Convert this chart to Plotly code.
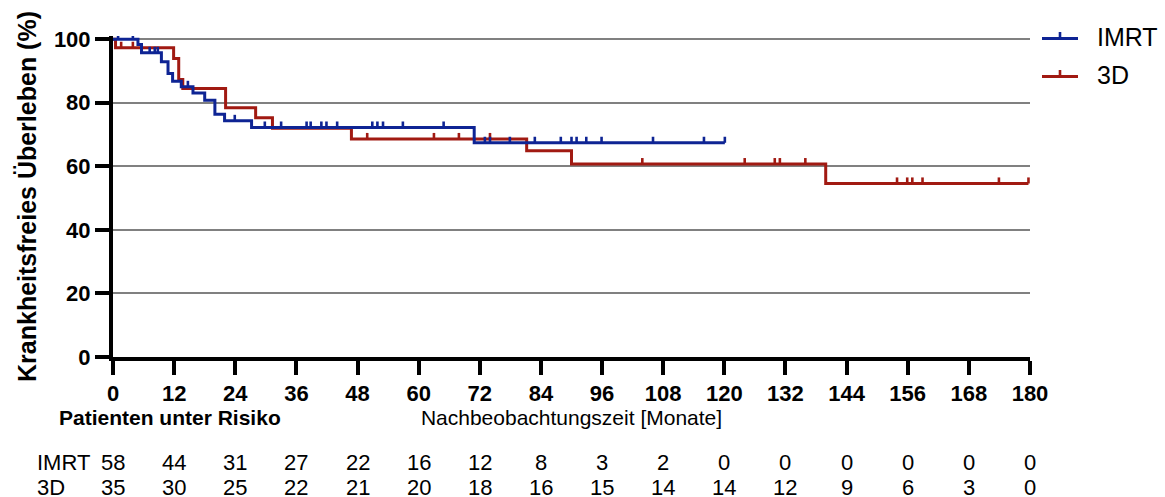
import plotly.graph_objects as go

# ---------------- data ----------------
month_ticks = list(range(0, 181, 12))
y_ticks = [0, 20, 40, 60, 80, 100]

imrt_event_times = [4.9, 5.6, 9.5, 10.8, 11.7, 13.4, 15.7, 18.0, 20.0, 21.9, 27.2, 70.9]
imrt_event_surv = [98.3, 95.7, 92.9, 89.2, 86.8, 85.0, 83.1, 80.8, 76.4, 74.3, 72.2, 67.4]
imrt_last_time = 120.1
imrt_censor = [1.0, 3.9, 7.2, 8.2, 8.8, 14.7, 23.9, 29.8, 33.0, 38.0, 38.8, 40.9, 41.9,
               44.0, 50.9, 51.9, 53.0, 56.9, 64.9, 73.0, 74.0, 77.9, 82.8, 87.9, 90.0,
               91.0, 92.9, 95.9, 106.0, 116.0, 120.1]

d3_event_times = [0.5, 11.9, 12.9, 13.7, 22.1, 28.0, 31.3, 46.8, 81.2, 90.0, 139.9]
d3_event_surv = [97.3, 93.9, 87.3, 84.5, 78.4, 75.3, 72.0, 68.6, 64.9, 60.7, 54.6]
d3_last_time = 179.7
d3_censor = [1.6, 3.9, 49.9, 63.0, 67.9, 74.0, 103.9, 124.0, 129.9, 130.9, 135.9,
             153.9, 155.9, 156.9, 158.9, 173.9, 179.7]

imrt_at_risk = [58, 44, 31, 27, 22, 16, 12, 8, 3, 2, 0, 0, 0, 0, 0, 0]
d3_at_risk = [35, 30, 25, 22, 21, 20, 18, 16, 15, 14, 14, 12, 9, 6, 3, 0]

group_names = ["IMRT", "3D"]
BLUE = "#0E2494"
RED = "#A11A12"
FONT = "Arial, Liberation Sans, Helvetica, sans-serif"

# layout geometry (pixels)
W, H = 1165, 497
ML, MR, MT, MB = 113, 135, 36, 140
PW, PH = W - ML - MR, H - MT - MB


def px_x(px):
    return (px - ML) / PW


def px_y(py):
    return (H - MB - py) / PH


def step_xy(times, surv, last_time):
    xs = [0.0] + list(times) + [last_time]
    ys = [100.0] + list(surv) + [surv[-1]]
    return xs, ys


def surv_at(t, times, surv):
    s = 100.0
    for ti, si in zip(times, surv):
        if ti <= t:
            s = si
    return s


fig = go.Figure()

groups = [
    ("3D", d3_event_times, d3_event_surv, d3_last_time, d3_censor, RED),
    ("IMRT", imrt_event_times, imrt_event_surv, imrt_last_time, imrt_censor, BLUE),
]

for name, t, s, last, cens, col in groups:
    xs, ys = step_xy(t, s, last)
    fig.add_trace(go.Scatter(x=xs, y=ys, mode="lines", name=name,
                             line=dict(color=col, width=3, shape="hv"),
                             showlegend=False, hoverinfo="skip"))
    cy = [surv_at(c, t, s) for c in cens]
    fig.add_trace(go.Scatter(
        x=cens, y=cy, mode="markers", name=name + " zensiert",
        marker=dict(size=1, color="rgba(0,0,0,0)"),
        error_y=dict(type="data", symmetric=False, array=[1.9] * len(cens),
                     arrayminus=[0] * len(cens), width=0, thickness=2.6, color=col),
        showlegend=False, hoverinfo="skip"))

ann = []
shapes = []

# legend (drawn manually so that it does not push the plot margins)
for i, (name, col) in enumerate([("IMRT", BLUE), ("3D", RED)]):
    ly = 38.5 + 38 * i
    shapes.append(dict(type="line", xref="paper", yref="paper",
                       x0=px_x(1042), x1=px_x(1078), y0=px_y(ly), y1=px_y(ly),
                       line=dict(color=col, width=3)))
    shapes.append(dict(type="line", xref="paper", yref="paper",
                       x0=px_x(1060), x1=px_x(1060), y0=px_y(ly), y1=px_y(ly - 6.5),
                       line=dict(color=col, width=2.6)))
    ann.append(dict(text=name, xref="paper", yref="paper", x=px_x(1095), y=px_y(ly - 1),
                    xanchor="left", yanchor="middle", showarrow=False,
                    font=dict(size=25, color="black", family=FONT)))

# risk table
ann.append(dict(text="<b>Patienten unter Risiko</b>", xref="paper", yref="paper",
                x=px_x(57), y=0, yshift=-60, xanchor="left", yanchor="middle",
                showarrow=False, font=dict(size=21, color="black", family=FONT)))
for row, (label, vals) in enumerate(zip(group_names, [imrt_at_risk, d3_at_risk])):
    ys = -105 - 25 * row
    ann.append(dict(text=label, xref="paper", yref="paper", x=px_x(35), y=0, yshift=ys,
                    xanchor="left", yanchor="middle", showarrow=False,
                    font=dict(size=22, color="black", family=FONT)))
    for m, v in zip(month_ticks, vals):
        ann.append(dict(text=str(v), xref="x", yref="paper", x=m, y=0, yshift=ys,
                        xanchor="center", yanchor="middle", showarrow=False,
                        font=dict(size=22, color="black", family=FONT)))

fig.update_layout(
    width=W, height=H,
    margin=dict(l=ML, r=MR, t=MT, b=MB),
    plot_bgcolor="white", paper_bgcolor="white",
    font=dict(family=FONT, color="black"),
    showlegend=False,
    annotations=ann,
    shapes=shapes,
    xaxis=dict(range=[0, 180], tickvals=month_ticks, ticktext=[str(m) for m in month_ticks],
               showgrid=False, zeroline=False,
               showline=True, linecolor="black", linewidth=4,
               ticks="outside", ticklen=14, tickwidth=4, tickcolor="black",
               tickfont=dict(size=22, family=FONT, color="black", weight="bold"),
               title=dict(text="Nachbeobachtungszeit [Monate]", standoff=5,
                          font=dict(size=21, family=FONT, color="black"))),
    yaxis=dict(range=[0, 101], tickvals=y_ticks, ticktext=[str(v) for v in y_ticks],
               showgrid=True, gridcolor="#808080", gridwidth=1.6, zeroline=False,
               showline=True, linecolor="black", linewidth=4,
               ticks="outside", ticklen=14, tickwidth=4, tickcolor="black",
               tickfont=dict(size=22, family=FONT, color="black", weight="bold"),
               title=dict(text="<b>Krankheitsfreies Überleben (%)</b>", standoff=11,
                          font=dict(size=25, family=FONT, color="black"))),
)

fig.write_html("out.html", post_script="document.body.style.margin='0px';",
               config={"displayModeBar": False})
